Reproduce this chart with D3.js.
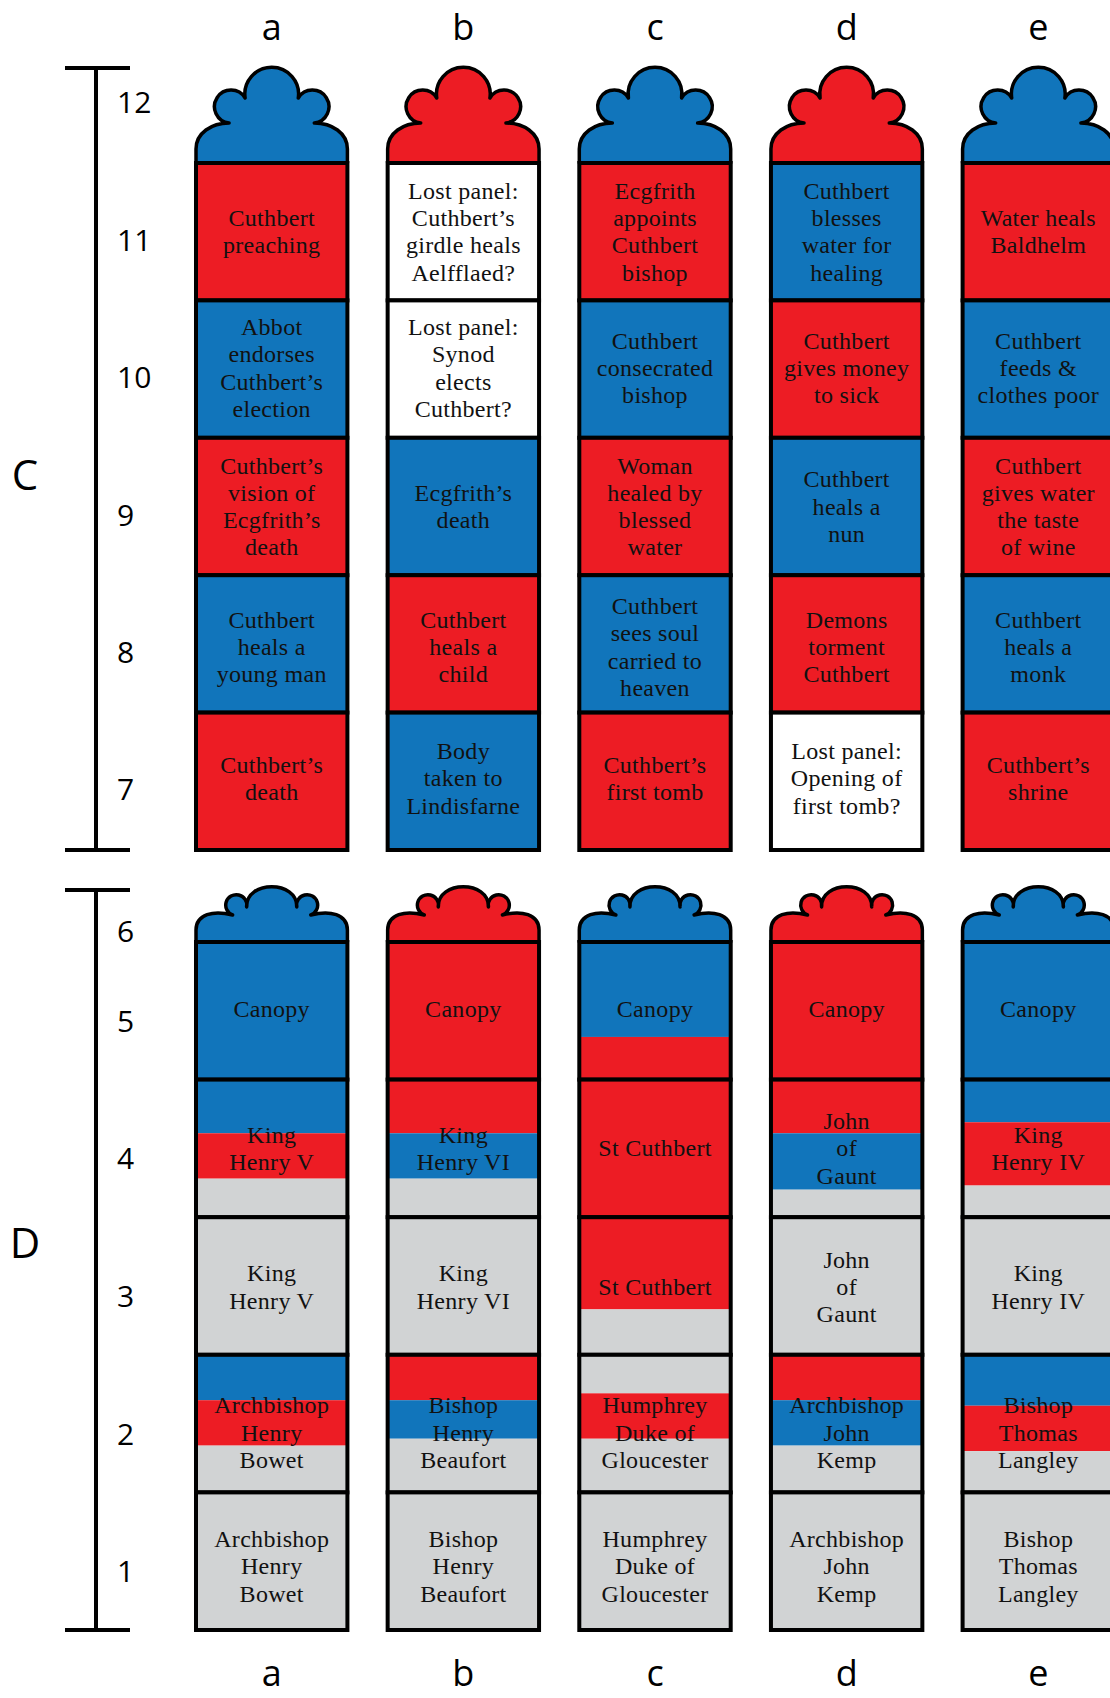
<!DOCTYPE html>
<html>
<head>
<meta charset="utf-8">
<script src="https://cdn.jsdelivr.net/npm/d3@7"></script>
<style>
  body { margin: 0; background: #fff; }
  svg { display: block; }
</style>
</head>
<body>
<div id="container"></div>
<script>
const columns = ["a", "b", "c", "d", "e"];

const upperRows = ["11", "10", "9", "8", "7"];
const lowerRows = ["5", "4", "3", "2", "1"];
const upperCrownLabel = "12";
const lowerCrownLabel = "6";
const sectionLetters = ["C", "D"];

const crownColours = ["blue", "red", "blue", "red", "blue"];

// upper window: one colour per panel, top to bottom, for each column
const upperColours = [
  ["red", "blue", "red", "blue", "red"],
  ["white", "white", "blue", "red", "blue"],
  ["red", "blue", "red", "blue", "red"],
  ["blue", "red", "blue", "red", "white"],
  ["red", "blue", "red", "blue", "red"]
];

const upperTexts = [
  ["Cuthbert|preaching", "Abbot|endorses|Cuthbert’s|election", "Cuthbert’s|vision of|Ecgfrith’s|death", "Cuthbert|heals a|young man", "Cuthbert’s|death"],
  ["Lost panel:|Cuthbert’s|girdle heals|Aelfflaed?", "Lost panel:|Synod|elects|Cuthbert?", "Ecgfrith’s|death", "Cuthbert|heals a|child", "Body|taken to|Lindisfarne"],
  ["Ecgfrith|appoints|Cuthbert|bishop", "Cuthbert|consecrated|bishop", "Woman|healed by|blessed|water", "Cuthbert|sees soul|carried to|heaven", "Cuthbert’s|first tomb"],
  ["Cuthbert|blesses|water for|healing", "Cuthbert|gives money|to sick", "Cuthbert|heals a|nun", "Demons|torment|Cuthbert", "Lost panel:|Opening of|first tomb?"],
  ["Water heals|Baldhelm", "Cuthbert|feeds &|clothes poor", "Cuthbert|gives water|the taste|of wine", "Cuthbert|heals a|monk", "Cuthbert’s|shrine"]
];

// lower window: colour bands inside each panel, [colour, share of the panel], top to bottom
const lowerStripes = [
  [[["blue", 1]], [["blue", 0.39], ["red", 0.33], ["grey", 0.28]], [["grey", 1]], [["blue", 0.33], ["red", 0.33], ["grey", 0.34]], [["grey", 1]]],
  [[["red", 1]], [["red", 0.39], ["blue", 0.33], ["grey", 0.28]], [["grey", 1]], [["red", 0.33], ["blue", 0.28], ["grey", 0.39]], [["grey", 1]]],
  [[["blue", 0.69], ["red", 0.31]], [["red", 1]], [["red", 0.67], ["grey", 0.33]], [["grey", 0.28], ["red", 0.33], ["grey", 0.39]], [["grey", 1]]],
  [[["red", 1]], [["red", 0.39], ["blue", 0.41], ["grey", 0.20]], [["grey", 1]], [["red", 0.33], ["blue", 0.33], ["grey", 0.34]], [["grey", 1]]],
  [[["blue", 1]], [["blue", 0.31], ["red", 0.46], ["grey", 0.23]], [["grey", 1]], [["blue", 0.37], ["red", 0.33], ["grey", 0.30]], [["grey", 1]]]
];

const lowerTexts = [
  ["Canopy", "King|Henry V", "King|Henry V", "Archbishop|Henry|Bowet", "Archbishop|Henry|Bowet"],
  ["Canopy", "King|Henry VI", "King|Henry VI", "Bishop|Henry|Beaufort", "Bishop|Henry|Beaufort"],
  ["Canopy", "St Cuthbert", "St Cuthbert", "Humphrey|Duke of|Gloucester", "Humphrey|Duke of|Gloucester"],
  ["Canopy", "John|of|Gaunt", "John|of|Gaunt", "Archbishop|John|Kemp", "Archbishop|John|Kemp"],
  ["Canopy", "King|Henry IV", "King|Henry IV", "Bishop|Thomas|Langley", "Bishop|Thomas|Langley"]
];

const W = 1110, H = 1698;
const palette = { red: "#ED1C24", blue: "#1175BB", grey: "#D1D3D4", white: "#FFFFFF" };
const sans = "'Open Sans', 'Noto Sans', sans-serif";
const serif = "'Liberation Serif', 'DejaVu Serif', serif";

const svg = d3.select("#container").append("svg")
    .attr("width", W)
    .attr("height", H);

const x = d3.scaleBand().domain(columns).range([196, 1114]).paddingInner(0.21);

const sections = [
  { rows: upperRows, crownLabel: upperCrownLabel, letter: sectionLetters[0], top: 68, panelTop: 163, bottom: 850,
    crown: "tall", letterY: 490, crownLabelY: 113, rowLabelDy: 19, textDy: [3, 2, 3, 6, 0],
    fills: upperColours.map(col => col.map(c => [[c, 1]])), texts: upperTexts },
  { rows: lowerRows, crownLabel: lowerCrownLabel, letter: sectionLetters[1], top: 890, panelTop: 942, bottom: 1630,
    crown: "short", letterY: 1258, crownLabelY: 942, rowLabelDy: 21, textDy: [1, 3, 4, 12, 8],
    fills: lowerStripes, texts: lowerTexts }
];

// crown outline above a column, base = top of first panel
function crownPath(x0, x1, base, shape) {
  const cx = (x0 + x1) / 2, k = (x1 - x0) / 151;
  const P = (dx, dy) => (cx + dx * k) + "," + (base + dy);
  if (shape === "tall") {
    return "M" + P(-75.5, 0) + "L" + P(-75.5, -14) +
      "C" + P(-75.5, -30) + " " + P(-60, -40) + " " + P(-42.5, -40) +
      "A" + (16.5 * k) + ",16.5 0 1 1 " + P(-26.5, -65) +
      "A" + (26.8 * k) + ",26.8 0 1 1 " + P(26.5, -65) +
      "A" + (16.5 * k) + ",16.5 0 1 1 " + P(42.5, -40) +
      "C" + P(60, -40) + " " + P(75.5, -30) + " " + P(75.5, -14) +
      "L" + P(75.5, 0) + "Z";
  }
  return "M" + P(-75.5, 0) + "L" + P(-75.5, -12) +
    "C" + P(-75.5, -28) + " " + P(-58, -32) + " " + P(-39, -27) +
    "A" + (10.5 * k) + ",10.5 0 1 1 " + P(-25, -35) +
    "C" + P(-26, -62) + " " + P(26, -62) + " " + P(25, -35) +
    "A" + (10.5 * k) + ",10.5 0 1 1 " + P(39, -27) +
    "C" + P(58, -32) + " " + P(75.5, -28) + " " + P(75.5, -12) +
    "L" + P(75.5, 0) + "Z";
}

sections.forEach(sec => {
  const y = d3.scaleBand().domain(sec.rows).range([sec.panelTop, sec.bottom]);
  const bw = y.bandwidth();

  // scale bar
  const bar = svg.append("g").attr("stroke", "#000").attr("stroke-width", 4);
  bar.append("line").attr("x1", 96).attr("x2", 96).attr("y1", sec.top).attr("y2", sec.bottom);
  [sec.top, sec.bottom].forEach(v => {
    bar.append("line").attr("x1", 65).attr("x2", 130).attr("y1", v).attr("y2", v);
  });

  // row numbers
  const labels = svg.append("g")
      .attr("font-family", sans)
      .attr("font-size", 30)
      .attr("fill", "#000");
  labels.append("text").attr("x", 117).attr("y", sec.crownLabelY).text(sec.crownLabel);
  labels.selectAll("text.row")
    .data(sec.rows)
    .enter().append("text")
      .attr("class", "row")
      .attr("x", 117)
      .attr("y", d => y(d) + bw / 2 + sec.rowLabelDy)
      .text(d => d);

  svg.append("text")
      .attr("x", 25)
      .attr("y", sec.letterY)
      .attr("text-anchor", "middle")
      .attr("font-family", sans)
      .attr("font-size", 42)
      .text(sec.letter);

  columns.forEach((col, ci) => {
    const x0 = x(col), x1 = x(col) + x.bandwidth(), cx = (x0 + x1) / 2;
    const g = svg.append("g");

    g.append("path")
        .attr("d", crownPath(x0, x1, sec.panelTop, sec.crown))
        .attr("fill", palette[crownColours[ci]])
        .attr("stroke", "#000")
        .attr("stroke-width", 3.5)
        .attr("stroke-linejoin", "round");

    sec.rows.forEach((row, ri) => {
      const top = y(row);
      const share = d3.scaleLinear().domain([0, 1]).range([top, top + bw]);
      const bands = sec.fills[ci][ri];
      const ends = d3.cumsum(bands, b => b[1]);

      g.selectAll(null)
        .data(bands)
        .enter().append("rect")
          .attr("x", x0)
          .attr("width", x1 - x0)
          .attr("y", (b, i) => share(i ? ends[i - 1] : 0))
          .attr("height", (b, i) => share(ends[i]) - share(i ? ends[i - 1] : 0))
          .attr("fill", b => palette[b[0]]);

      g.append("rect")
          .attr("x", x0)
          .attr("y", top)
          .attr("width", x1 - x0)
          .attr("height", bw)
          .attr("fill", "none")
          .attr("stroke", "#000")
          .attr("stroke-width", 4);
    });

    sec.rows.forEach((row, ri) => {
      const lines = sec.texts[ci][ri].split("|");
      const mid = y(row) + bw / 2 + sec.textDy[ri];
      g.selectAll(null)
        .data(lines)
        .enter().append("text")
          .attr("x", cx)
          .attr("y", (d, i) => mid + (i - (lines.length - 1) / 2) * 27.3 + 5)
          .attr("text-anchor", "middle")
          .attr("font-family", serif)
          .attr("font-size", 24)
          .attr("letter-spacing", 0.3)
          .attr("fill", "#111")
          .text(d => d);
    });
  });
});

// column letters, top and bottom
svg.append("g")
    .attr("font-family", sans)
    .attr("font-size", 36)
    .attr("text-anchor", "middle")
  .selectAll("text")
  .data(columns.flatMap(c => [[c, 40], [c, 1686]]))
  .enter().append("text")
    .attr("x", d => x(d[0]) + x.bandwidth() / 2)
    .attr("y", d => d[1])
    .text(d => d[0]);
</script>
</body>
</html>
